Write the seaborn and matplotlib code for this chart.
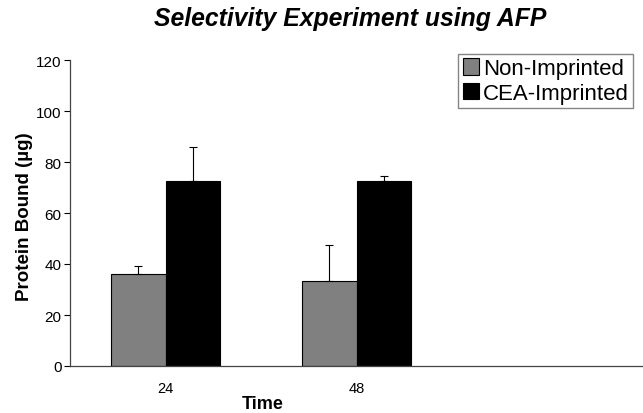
import pandas as pd
import seaborn as sns
import matplotlib.pyplot as plt
import numpy as np

# Values
times = ["24", "48"]
non_imprinted = [36, 33.3]
cea_imprinted = [72.5, 72.5]
non_imprinted_err = [3.2, 14]
cea_imprinted_err = [13.5, 2]
groups = ["Non-Imprinted", "CEA-Imprinted"]

sns.set_style("white")
plt.rcParams['font.family'] = ['Liberation Sans', 'DejaVu Sans']
plt.rcParams['text.color'] = 'black'
plt.rcParams['axes.labelcolor'] = 'black'
plt.rcParams['xtick.color'] = 'black'
plt.rcParams['ytick.color'] = 'black'

data = pd.DataFrame({
    "Time": times * 2,
    "Protein": non_imprinted + cea_imprinted,
    "Group": [groups[0]] * len(times) + [groups[1]] * len(times),
})

fig = plt.figure(figsize=(6.43, 4.14), dpi=100)
ax = fig.add_axes([70 / 643, 1 - 367 / 414, 573 / 643, 306 / 414])

sns.barplot(data=data, x="Time", y="Protein", hue="Group", order=times + [""],
            hue_order=groups, palette=["#808080", "#000000"], width=0.575,
            edgecolor="black", linewidth=0.8, errorbar=None, ax=ax)

# one-sided error bars on top of each bar
errs = {groups[0]: non_imprinted_err, groups[1]: cea_imprinted_err}
for container, g in zip(ax.containers, groups):
    for bar, e in zip(container.patches, errs[g]):
        xc = bar.get_x() + bar.get_width() / 2
        ax.errorbar(xc, bar.get_height(), yerr=[[0], [e]], color="black",
                    lw=0.8, capsize=3, capthick=0.8)

ax.set_xlim(-0.5, 2.5)
ax.set_ylim(0, 120)
ax.set_yticks(np.arange(0, 121, 20))
ax.set_xticks([0, 1])
ax.set_xticklabels(times, fontsize=10.5)
ax.set_xticks([-0.5, 0.5, 1.5], minor=True)
ax.tick_params(axis="x", which="major", length=0, pad=11)
ax.tick_params(axis="x", which="minor", length=4, width=0.8, direction="out")
ax.tick_params(axis="y", length=4, width=0.8, direction="out", labelsize=11, left=True, pad=2)

sns.despine(ax=ax)
for s in ["left", "bottom"]:
    ax.spines[s].set_color("#444444")
    ax.spines[s].set_linewidth(0.9)

ax.set_ylabel("Protein Bound (µg)", fontsize=13.5, fontweight="bold")
ax.set_xlabel("Time", fontsize=13, fontweight="bold")
ax.xaxis.set_label_coords((263 - 70) / 573, -0.095)
ax.yaxis.set_label_coords(-0.064, 0.49)

fig.suptitle("Selectivity Experiment using AFP", x=350 / 643, y=0.982,
             fontsize=17.8, fontweight="bold", fontstyle="italic")

leg = ax.legend(loc="upper right", bbox_to_anchor=(0.9825, 1.02), borderaxespad=0,
                fontsize=16, frameon=True, fancybox=False, handlelength=0.75,
                handleheight=0.75, handletextpad=0.15, borderpad=0.2, labelspacing=0.15)
leg.get_frame().set_edgecolor("#666666")
leg.get_frame().set_linewidth(1.0)

fig.savefig("out.png", dpi=100)
